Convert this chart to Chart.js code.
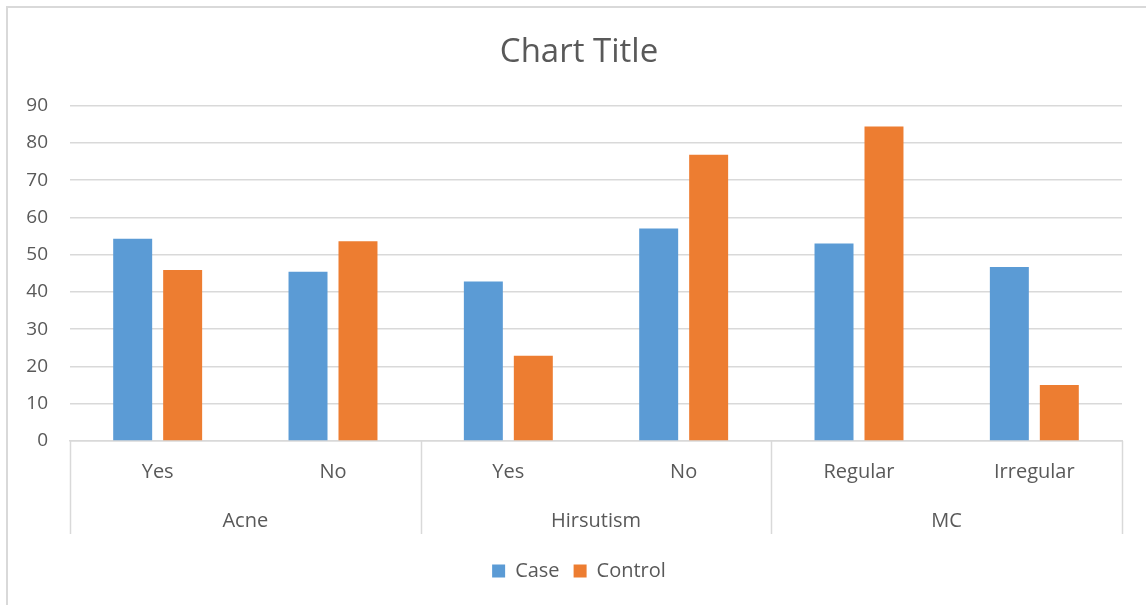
<!DOCTYPE html>
<html>
<head>
<meta charset="utf-8">
<script src="https://cdn.jsdelivr.net/npm/chart.js@4/dist/chart.umd.min.js"></script>
<style>
  body { margin: 0; background: #fff; }
  #marco { position: relative; width: 1146px; height: 605px; overflow: hidden; }
  #borde { position: absolute; left: 6px; top: 6px; width: 1160px; height: 620px; border: 2px solid #d9d9d9; box-sizing: border-box; }
  canvas { position: absolute; left: 0; top: 0; }
</style>
</head>
<body>
<div id="marco">
  <div id="borde"></div>
  <canvas id="grafica" width="1146" height="605"></canvas>
</div>
<script>
var colorAzul = "#5b9bd5";
var colorNaranja = "#ed7d31";
var colorTexto = "#595959";
var colorLinea = "#d9d9d9";

// categorias
var subCategorias = ["Yes", "No", "Yes", "No", "Regular", "Irregular"];
var grupos = ["Acne", "Hirsutism", "MC"];

// valores de las series
var valoresCase = [54.3, 45.4, 42.8, 57.0, 53.0, 46.7];
var valoresControl = [45.9, 53.6, 22.9, 76.8, 84.4, 15.0];

var fuente = "'Open Sans', 'DejaVu Sans', sans-serif";

// lineas verticales que separan los grupos del eje
var separadores = {
    id: 'separadores',
    afterDraw: function (chart) {
        var x2 = chart.scales.x2;
        var y = chart.scales.y;
        var ctx = chart.ctx;
        var paso = x2.width / grupos.length;
        ctx.save();
        ctx.strokeStyle = colorLinea;
        ctx.lineWidth = 1.5;
        for (var i = 0; i <= grupos.length; i++) {
            var px = Math.round(x2.left + i * paso) + 0.5;
            ctx.beginPath();
            ctx.moveTo(px, y.bottom);
            ctx.lineTo(px, x2.top + 33);
            ctx.stroke();
        }
        ctx.restore();
    }
};

var datosGrafica = {
    labels: subCategorias,
    datasets: [{
        label: 'Case',
        data: valoresCase,
        backgroundColor: colorAzul,
        categoryPercentage: 0.57,
        barPercentage: 0.78
    }, {
        label: 'Control',
        data: valoresControl,
        backgroundColor: colorNaranja,
        categoryPercentage: 0.57,
        barPercentage: 0.78
    }]
};

var configuracion = {
    type: 'bar',
    data: datosGrafica,
    options: {
        responsive: false,
        animation: false,
        layout: { padding: { left: 12, right: 0, top: 0, bottom: 14 } },
        plugins: {
            title: {
                display: true,
                text: 'Chart Title',
                color: colorTexto,
                font: { family: fuente, size: 33, weight: 'normal' },
                padding: { top: 33, bottom: 33 }
            },
            legend: {
                position: 'bottom',
                labels: {
                    color: colorTexto,
                    font: { family: fuente, size: 20 },
                    boxWidth: 13,
                    boxHeight: 13,
                    padding: 14
                }
            },
            tooltip: { enabled: false }
        },
        scales: {
            x: {
                grid: { display: false },
                border: { display: true, color: colorLinea, width: 1.5 },
                ticks: { color: colorTexto, font: { family: fuente, size: 20 }, padding: 11, maxRotation: 0 },
                afterFit: function (escala) { escala.height = 60; }
            },
            x2: {
                type: 'category',
                labels: grupos,
                position: 'bottom',
                offset: true,
                grid: { display: false },
                border: { display: false },
                ticks: { color: colorTexto, font: { family: fuente, size: 20 }, padding: 0, maxRotation: 0 },
                afterFit: function (escala) { escala.height = 46; }
            },
            y: {
                min: 0,
                max: 90,
                ticks: { stepSize: 10, color: colorTexto, font: { family: fuente, size: 19 }, padding: 22 },
                grid: { color: colorLinea, lineWidth: 1.5, drawTicks: false },
                border: { display: false },
                afterFit: function (escala) { escala.width = 58; }
            },
            // eje vacio a la derecha, solo reserva el margen
            yDerecha: {
                position: 'right',
                min: 0,
                max: 90,
                grid: { display: false },
                border: { display: false },
                ticks: { display: false },
                afterFit: function (escala) { escala.width = 24; }
            }
        }
    },
    plugins: [separadores]
};

var graficaJavascript = new Chart(
    document.getElementById('grafica'),
    configuracion
);
</script>
</body>
</html>
